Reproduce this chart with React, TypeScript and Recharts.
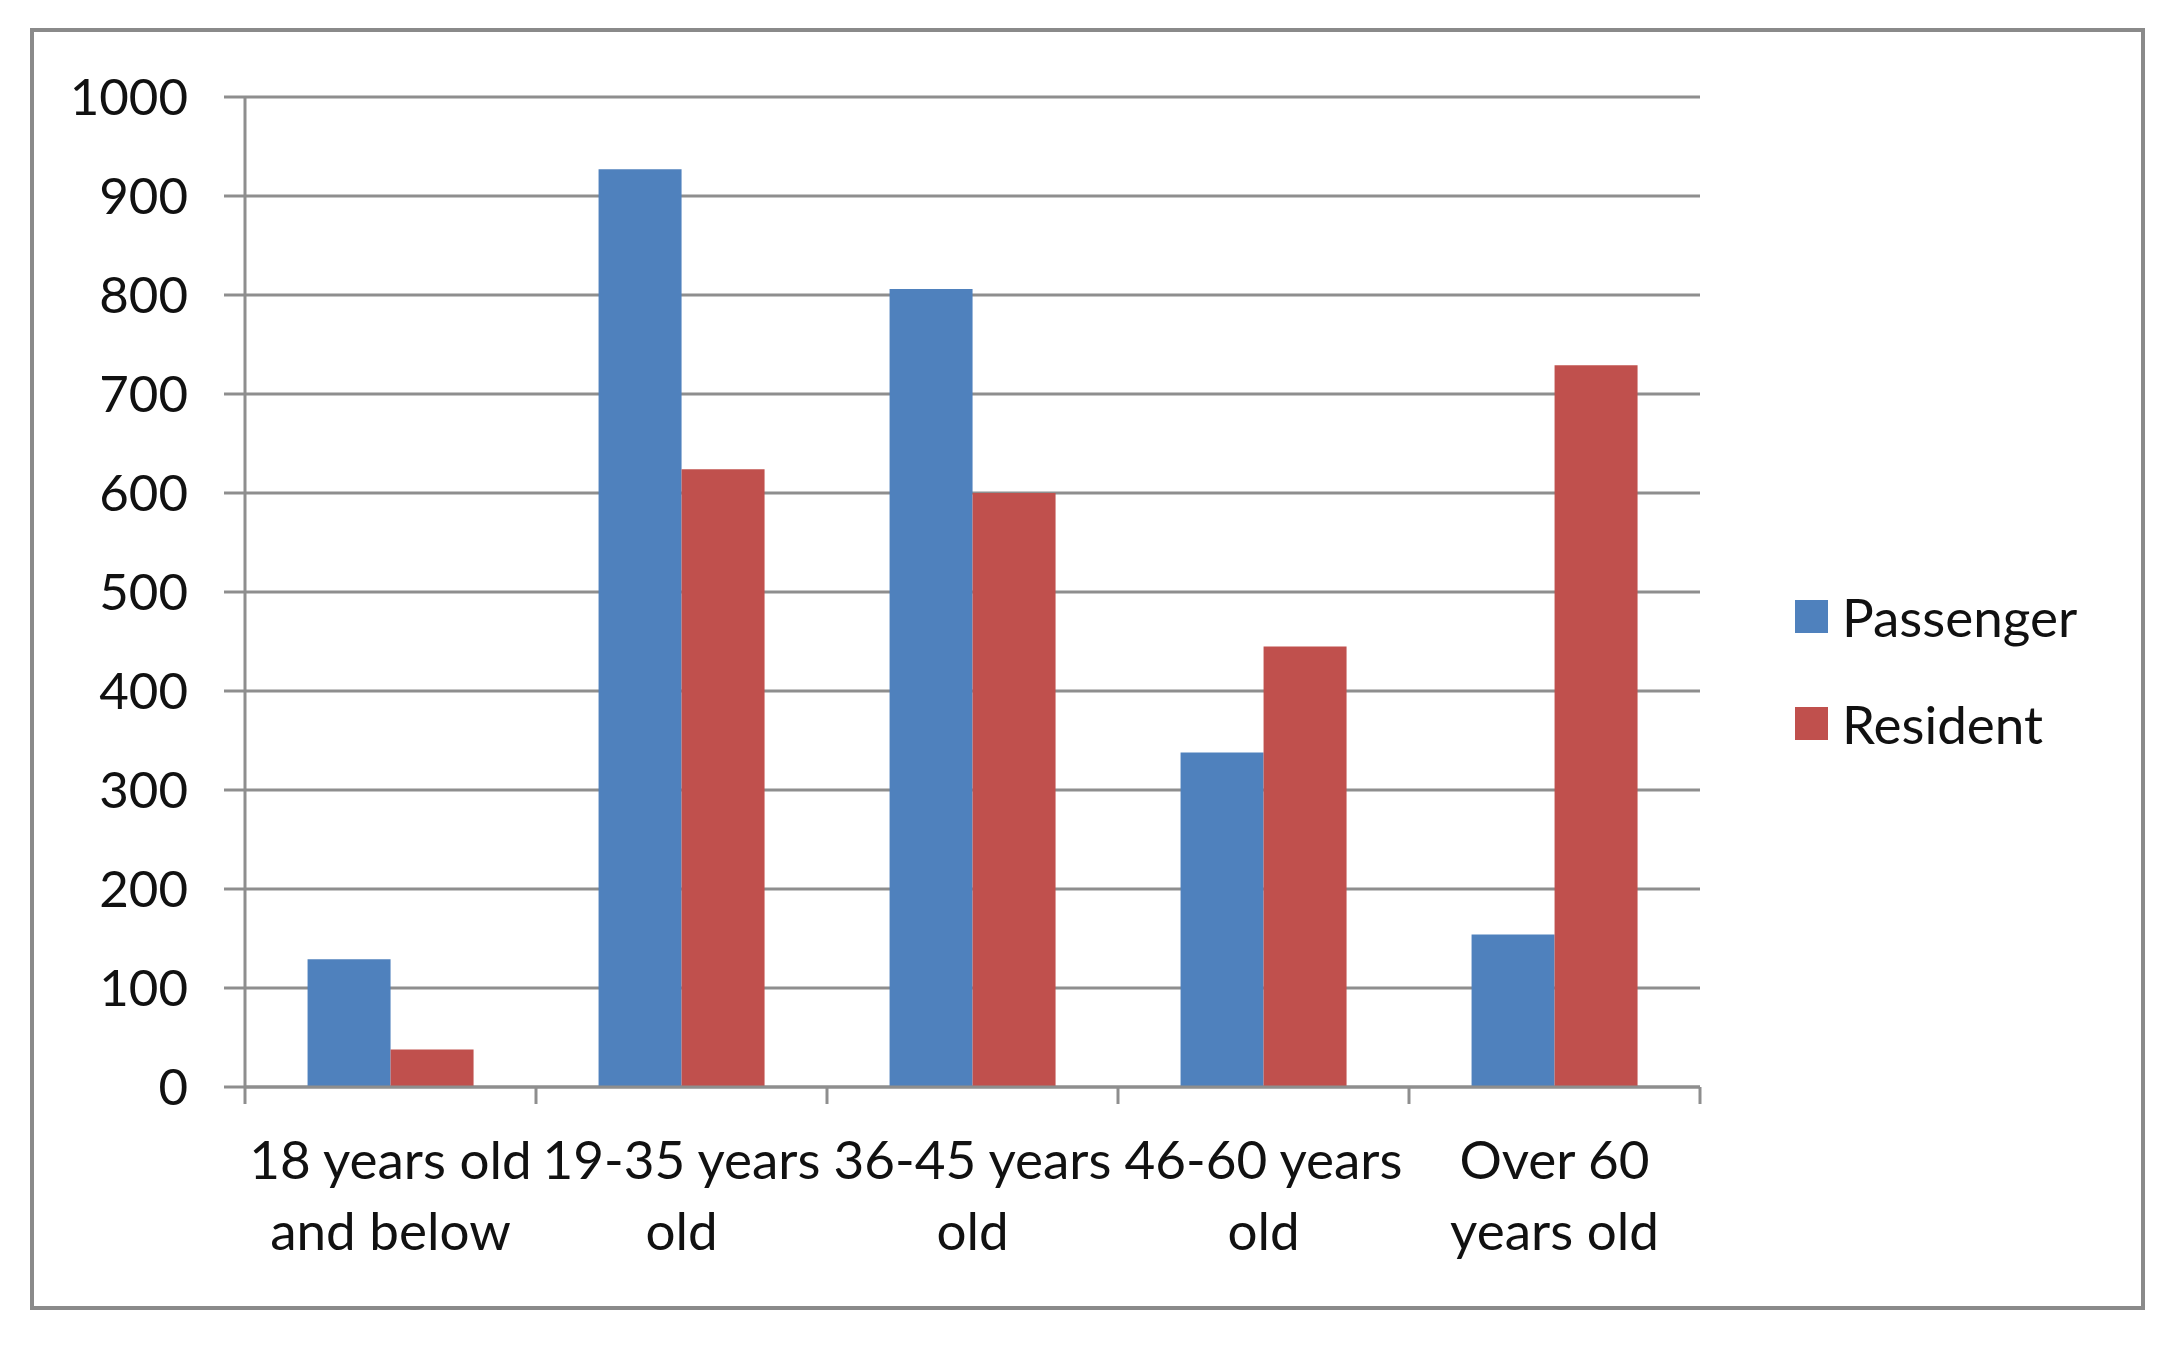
import { BarChart, Bar, XAxis, YAxis, CartesianGrid, Legend } from "recharts";

// age groups, "\n" splits the two label lines
const categories = [
  "18 years old\nand below",
  "19-35 years\nold",
  "36-45 years\nold",
  "46-60 years\nold",
  "Over 60\nyears old",
];
const passenger = [129, 927, 806, 338, 154];
const resident = [38, 624, 600, 445, 729];
const yTicks = [0, 100, 200, 300, 400, 500, 600, 700, 800, 900, 1000];

const data = categories.map((category, i) => ({
  category,
  Passenger: passenger[i],
  Resident: resident[i],
}));

const GRID = "#8e8e8e";
const FONT = "Lato, 'Open Sans', sans-serif";
const TEXT = "#111";

function AgeTick(props: any) {
  const { x, y, payload, index, visibleTicksCount } = props;
  const half = payload?.offset ?? 145.5;
  const lines = String(payload.value).split("\n");
  return (
    <g>
      <line x1={x - half} x2={x - half} y1={y} y2={y + 17} stroke={GRID} strokeWidth={3} />
      {index === visibleTicksCount - 1 && (
        <line x1={x + half} x2={x + half} y1={y} y2={y + 17} stroke={GRID} strokeWidth={3} />
      )}
      <text textAnchor="middle" fill={TEXT} fontSize={53} fontFamily={FONT}>
        {lines.map((line, i) => (
          <tspan key={i} x={x} y={y + 92 + i * 71}>
            {line}
          </tspan>
        ))}
      </text>
    </g>
  );
}

function LegendBox(props: any) {
  const items = props.payload ?? [];
  return (
    <div style={{ fontFamily: FONT, fontSize: 53, color: TEXT }}>
      {items.map((item: any) => (
        <div key={item.value} style={{ display: "flex", alignItems: "center", height: 107 }}>
          <span
            style={{ width: 33, height: 33, background: item.color, marginRight: 14, display: "inline-block" }}
          />
          <span style={{ lineHeight: "53px" }}>{item.value}</span>
        </div>
      ))}
    </div>
  );
}

export default function App() {
  return (
    <div
      style={{
        margin: "20px 0 0 22px",
        width: 2115,
        height: 1282,
        border: "4px solid #8a8a8a",
        boxSizing: "border-box",
        background: "#fff",
      }}
    >
      <BarChart
        width={2107}
        height={1274}
        data={data}
        margin={{ top: 65, right: 121, bottom: 0, left: 0 }}
        barCategoryGap="21.5%"
        barGap={0}
      >
        <CartesianGrid vertical={false} stroke={GRID} strokeWidth={3} />
        <XAxis
          dataKey="category"
          height={219}
          interval={0}
          tickLine={false}
          tickSize={0}
          tickMargin={0}
          axisLine={{ stroke: GRID, strokeWidth: 3 }}
          tick={<AgeTick />}
        />
        <YAxis
          width={211}
          domain={[0, 1000]}
          ticks={yTicks}
          interval={0}
          tickSize={21}
          tickMargin={36}
          axisLine={{ stroke: GRID, strokeWidth: 3 }}
          tickLine={{ stroke: GRID, strokeWidth: 3 }}
          tick={{ fill: TEXT, fontSize: 51, fontFamily: FONT }}
        />
        <Legend
          layout="vertical"
          align="right"
          verticalAlign="middle"
          content={<LegendBox />}
          wrapperStyle={{ left: 1761, top: 531, width: 320 }}
        />
        <Bar dataKey="Passenger" fill="#4F81BD" isAnimationActive={false} />
        <Bar dataKey="Resident" fill="#C0504D" isAnimationActive={false} />
      </BarChart>
    </div>
  );
}
